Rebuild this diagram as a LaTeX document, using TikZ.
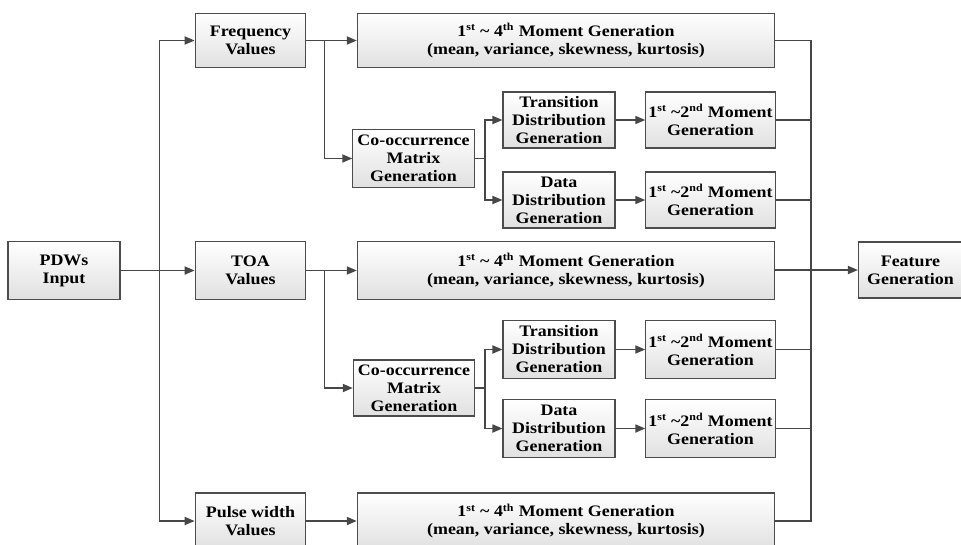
\documentclass[tikz,border=0pt]{standalone}
\usepackage{fontspec}
\setmainfont[FakeStretch=1.12]{Liberation Serif}
\usepackage{tikz}
\usetikzlibrary{arrows.meta,calc}

\begin{document}
\begin{tikzpicture}[x=0.75pt, y=-0.75pt,
  blk/.style={draw=black!70, line width=0.8pt, top color=white, bottom color=black!12,
    align=center, inner sep=0pt, font=\rmfamily\bfseries\fontsize{12}{13.5}\selectfont},
  ln/.style={draw=black!72, line width=1.3pt},
  arr/.style={ln, -{Triangle[length=7.5pt, width=6pt]}}]
  \useasboundingbox (0,0) rectangle (961,544);

  % Draw input and value boxes
  \node[blk, minimum width=84pt, minimum height=43pt] (pdw) at (64,270.5) {PDWs\\Input};
  \node[blk, minimum width=83pt, minimum height=41pt] (freq) at (250.5,40.5) {Frequency\\Values};
  \node[blk, minimum width=83pt, minimum height=43pt] (toa) at (250.5,270.5) {TOA\\Values};
  \node[blk, minimum width=83pt, minimum height=42pt] (pw) at (250.5,521) {Pulse width\\Values};

  % Draw 1st ~ 4th moment boxes
  \node[blk, minimum width=313pt, minimum height=41pt] (mfreq) at (566,40.5)
    {1\textsuperscript{st} \textasciitilde{} 4\textsuperscript{th} Moment Generation\\(mean, variance, skewness, kurtosis)};
  \node[blk, minimum width=313pt, minimum height=43pt] (mtoa) at (566,270.5)
    {1\textsuperscript{st} \textasciitilde{} 4\textsuperscript{th} Moment Generation\\(mean, variance, skewness, kurtosis)};
  \node[blk, minimum width=313pt, minimum height=42pt] (mpw) at (566,521)
    {1\textsuperscript{st} \textasciitilde{} 4\textsuperscript{th} Moment Generation\\(mean, variance, skewness, kurtosis)};

  % Draw co-occurrence branch of frequency
  \node[blk, minimum width=91pt, minimum height=43pt] (coA) at (413.5,158.5) {Co-occurrence\\Matrix\\Generation};
  \node[blk, minimum width=84pt, minimum height=42pt] (trA) at (559,120) {Transition\\Distribution\\Generation};
  \node[blk, minimum width=84pt, minimum height=42pt] (daA) at (559,200) {Data\\Distribution\\Generation};
  \node[blk, minimum width=97pt, minimum height=42pt] (mtrA) at (710.5,120)
    {1\textsuperscript{st} \textasciitilde2\textsuperscript{nd} Moment\\Generation};
  \node[blk, minimum width=97pt, minimum height=42pt] (mdaA) at (710.5,200)
    {1\textsuperscript{st} \textasciitilde2\textsuperscript{nd} Moment\\Generation};

  % Draw co-occurrence branch of TOA
  \node[blk, minimum width=91pt, minimum height=42pt] (coB) at (414,388) {Co-occurrence\\Matrix\\Generation};
  \node[blk, minimum width=84pt, minimum height=43pt] (trB) at (559,349.5) {Transition\\Distribution\\Generation};
  \node[blk, minimum width=84pt, minimum height=43pt] (daB) at (559,428.5) {Data\\Distribution\\Generation};
  \node[blk, minimum width=97pt, minimum height=43pt] (mtrB) at (710.5,349.5)
    {1\textsuperscript{st} \textasciitilde2\textsuperscript{nd} Moment\\Generation};
  \node[blk, minimum width=97pt, minimum height=43pt] (mdaB) at (710.5,428.5)
    {1\textsuperscript{st} \textasciitilde2\textsuperscript{nd} Moment\\Generation};

  % Draw output box
  \node[blk, minimum width=78pt, minimum height=42pt] (feat) at (910.5,270) {Feature\\Generation};

  % Split of the input
  \coordinate (split) at (159.5,270.5);
  \draw[arr] (pdw) -- (toa);
  \draw[arr] (split) |- (freq);
  \draw[arr] (split) |- (pw);

  % Frequency paths
  \draw[arr] (freq) -- (mfreq);
  \draw[arr] ($(freq.east)+(18,0)$) |- (coA);
  \draw[ln] (coA.east) -- ++(10,0) coordinate (brA);
  \draw[arr] (brA) |- (trA);
  \draw[arr] (brA) |- (daA);
  \draw[arr] (trA) -- (mtrA);
  \draw[arr] (daA) -- (mdaA);

  % TOA paths
  \draw[arr] (toa) -- (mtoa);
  \draw[arr] ($(toa.east)+(18,0)$) |- (coB);
  \draw[ln] (coB.east) -- ++(10,0) coordinate (brB);
  \draw[arr] (brB) |- (trB);
  \draw[arr] (brB) |- (daB);
  \draw[arr] (trB) -- (mtrB);
  \draw[arr] (daB) -- (mdaB);

  % Pulse width path
  \draw[arr] (pw) -- (mpw);

  % Collect all moments
  \coordinate (join) at (811,270);
  \foreach \m in {mfreq,mtrA,mdaA,mtrB,mdaB,mpw}
    \draw[ln] (\m) -| (join);
  \draw[ln] (mtoa) -- (join);
  \draw[arr] (join) -- (feat);
\end{tikzpicture}
\end{document}
